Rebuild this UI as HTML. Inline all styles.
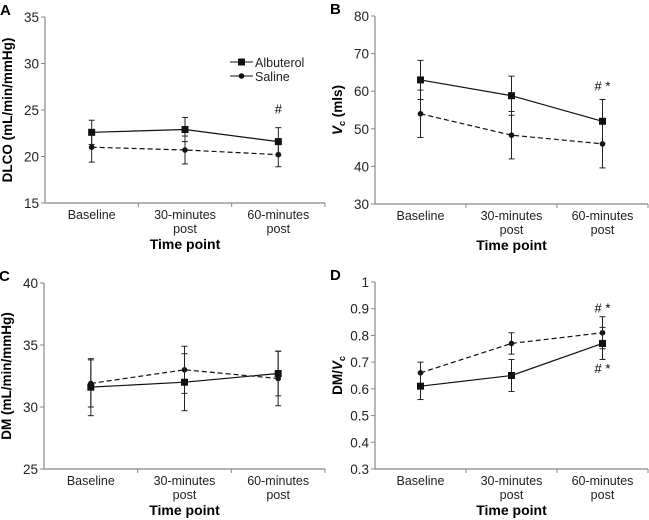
<!DOCTYPE html>
<html><head><meta charset="utf-8"><style>
body{margin:0;background:#fff}
svg{display:block;font-family:"Liberation Sans",Arial,sans-serif}
</style></head><body>
<svg id="c" width="649" height="520" viewBox="0 0 649 520"></svg>
<script>
const categories=["Baseline","30-minutes|post","60-minutes|post"];
const aAlb=[22.6,22.9,21.6], aAlbErr=[1.3,1.3,1.5];
const aSal=[21.0,20.7,20.2], aSalErr=[1.6,1.5,1.3];
const aTicks=[15,20,25,30,35];
const bAlb=[63,58.8,52], bAlbErr=[5.2,5.2,5.8];
const bSal=[54,48.3,46], bSalErr=[6.3,6.3,6.4];
const bTicks=[30,40,50,60,70,80];
const cAlb=[31.6,32.0,32.7], cAlbErr=[2.3,2.3,1.8];
const cSal=[31.9,33.0,32.3], cSalErr=[1.9,1.9,2.2];
const cTicks=[25,30,35,40];
const dAlb=[0.61,0.65,0.77], dAlbErr=[0.05,0.06,0.06];
const dSal=[0.66,0.77,0.81], dSalErr=[0.04,0.04,0.06];
const dTicks=[0.3,0.4,0.5,0.6,0.7,0.8,0.9,1];
const dTickLabels=["0.3","0.4","0.5","0.6","0.7","0.8","0.9","1"];

const svg=document.getElementById('c');
const NS='http://www.w3.org/2000/svg';
function mk(tag,at,parent){const e=document.createElementNS(NS,tag);for(const k in at)e.setAttribute(k,at[k]);(parent||svg).appendChild(e);return e;}
function txt(s,at,parent){const e=mk('text',at,parent);e.textContent=s;return e;}

function panel(letter,x0,top,bottom,right,ticks,tickLabels,alb,albErr,sal,salErr,ytitle,notes){
  const g=mk('g',{});
  
  
  const mn=ticks[0],mx=ticks[ticks.length-1];
  const y=v=>bottom-(v-mn)/(mx-mn)*(bottom-top);
  const w=(right-x0)/3;
  const x=i=>x0+w*(i+0.5);
  const pl=txt(letter,{x:x0-45,y:top-2,'font-size':15,'font-weight':'bold'},g);
  
  
  mk('line',{x1:x0,y1:top,x2:x0,y2:bottom,stroke:'#888','stroke-width':1.2},g);
  mk('line',{x1:x0,y1:bottom,x2:right,y2:bottom,stroke:'#888','stroke-width':1.2},g);
  ticks.forEach((t,i)=>{
    mk('line',{x1:x0-4,y1:y(t),x2:x0,y2:y(t),stroke:'#888'},g);
    const tl=txt(tickLabels[i],{x:x0-6,y:y(t)+5,'font-size':13.5,'text-anchor':'end',fill:'#222'},g);
    
    
  });
  for(let i=1;i<=3;i++)mk('line',{x1:x0+w*i,y1:bottom,x2:x0+w*i,y2:bottom+4,stroke:'#888'},g);
  categories.forEach((c,i)=>{
    c.split('|').forEach((ln,j)=>{
      const t=txt(ln,{x:x(i),y:bottom+16+j*14,'font-size':12.5,'text-anchor':'middle',fill:'#222'},g);
      
      
    });
  });
  const xt=txt('Time point',{x:x(1),y:bottom+46,'font-size':14,'font-weight':'bold','text-anchor':'middle'},g);
  
  
  const yt=mk('text',{transform:`translate(${x0-33},${(top+bottom)/2}) rotate(-90)`,'font-size':13.5,'font-weight':'bold','text-anchor':'middle'},g);
  yt.innerHTML=ytitle;
  
  
  function series(vals,errs,dash,name,square){
    const sg=mk('g',{},g);
    
    
    vals.forEach((v,i)=>{
      mk('line',{x1:x(i),y1:y(v-errs[i]),x2:x(i),y2:y(v+errs[i]),stroke:'#222','stroke-width':1},sg);
      mk('line',{x1:x(i)-3,y1:y(v-errs[i]),x2:x(i)+3,y2:y(v-errs[i]),stroke:'#222'},sg);
      mk('line',{x1:x(i)-3,y1:y(v+errs[i]),x2:x(i)+3,y2:y(v+errs[i]),stroke:'#222'},sg);
    });
    mk('polyline',{points:vals.map((v,i)=>x(i)+','+y(v)).join(' '),fill:'none',stroke:'#111','stroke-width':1.2,'stroke-dasharray':dash},sg);
    vals.forEach((v,i)=>{
      const m=square?mk('rect',{x:x(i)-3.5,y:y(v)-3.5,width:7,height:7,fill:'#111'},sg):mk('circle',{cx:x(i),cy:y(v),r:2.8,fill:'#111'},sg);
      
      
    });
  }
  series(sal,salErr,'5,3','saline',false);
  series(alb,albErr,'none','albuterol',true);
  notes.forEach(n=>{
    const t=txt(n.s,{x:x(n.i),y:y(n.v),'font-size':13,'text-anchor':'middle'},g);
    
    
  });
  return {g,x,y};
}
panel('A',45,17,203,325,aTicks,aTicks.map(String),aAlb,aAlbErr,aSal,aSalErr,'DLCO (mL/min/mmHg)',[{s:'#',i:2,v:24.6}]);
panel('B',375,16,204,648,bTicks,bTicks.map(String),bAlb,bAlbErr,bSal,bSalErr,'<tspan font-style="italic">V</tspan><tspan font-size="9" dy="3">c</tspan><tspan dy="-3"> (mls)</tspan>',[{s:'# *',i:2,v:60.2}]);
panel('C',44,283,469,325,cTicks,cTicks.map(String),cAlb,cAlbErr,cSal,cSalErr,'DM (mL/min/mmHg)',[]);
panel('D',375,282,469,648,dTicks,dTickLabels,dAlb,dAlbErr,dSal,dSalErr,'DM/<tspan font-style="italic">V</tspan><tspan font-size="9" dy="3">c</tspan>',[{s:'# *',i:2,v:0.885},{s:'# *',i:2,v:0.66}]);
const lg=mk('g',{});


mk('line',{x1:230,y1:62,x2:253,y2:62,stroke:'#111'},lg);
mk('rect',{x:238,y:58.5,width:7,height:7,fill:'#111'},lg);
txt('Albuterol',{x:255,y:67,'font-size':12.5,fill:'#222'},lg);
mk('line',{x1:230,y1:76,x2:253,y2:76,stroke:'#111'},lg);
mk('circle',{cx:241.5,cy:76,r:2.8,fill:'#111'},lg);
txt('Saline',{x:255,y:81,'font-size':12.5,fill:'#222'},lg);
</script>
</body></html>
